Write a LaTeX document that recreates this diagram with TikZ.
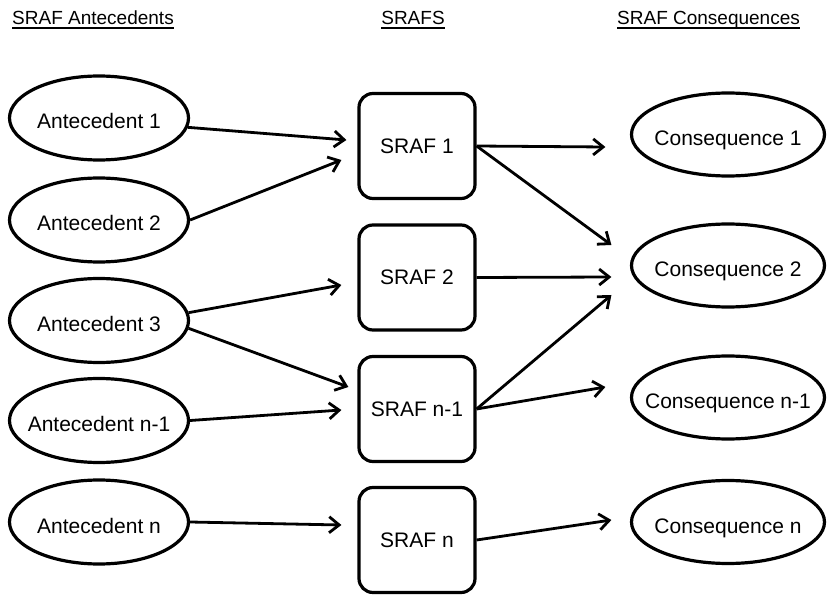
\documentclass[tikz,border=0pt]{standalone}
\usepackage{fontspec}
\setmainfont{Liberation Sans}
\usetikzlibrary{arrows.meta,shapes.geometric,calc}

\tikzset{
  ante/.style={ellipse,draw,line width=3.2pt,minimum width=179pt,minimum height=84pt,
    inner xsep=-20pt,inner ysep=0pt,text height=22pt,text depth=0pt,
    font=\fontsize{21pt}{25pt}\selectfont},
  cons/.style={ante,minimum width=193pt,minimum height=83pt},
  sraf/.style={rectangle,draw,rounded corners=14pt,line width=3.2pt,minimum width=116pt,
    minimum height=105pt,inner sep=0pt,font=\fontsize{21pt}{25pt}\selectfont},
  head/.style={inner sep=0pt,font=\fontsize{19pt}{23pt}\selectfont},
  link/.style={-{Straight Barb[length=10pt,width=16pt]},line width=2.8pt},
}

\begin{document}
\begin{tikzpicture}[x=1pt,y=-1pt]
\useasboundingbox (0,0) rectangle (828,596);

% column headings
\node[head,anchor=base west] (hA) at (12,25)  {SRAF Antecedents};
\node[head,anchor=base]      (hS) at (413,25) {SRAFS};
\node[head,anchor=base west] (hC) at (617,25) {SRAF Consequences};
\foreach \h in {hA,hS,hC}
  \draw[line width=2pt] ([yshift=-3.5pt]\h.base west) -- ([yshift=-3.5pt]\h.base east);

% antecedents
\node[ante] (a1) at (99,118)   {Antecedent 1};
\node[ante] (a2) at (99,220)   {Antecedent 2};
\node[ante] (a3) at (99,320.5) {Antecedent 3};
\node[ante] (a4) at (99,420.5) {Antecedent n-1};
\node[ante] (a5) at (99,522)   {Antecedent n};

% srafs
\node[sraf] (s1) at (417,146)   {SRAF 1};
\node[sraf] (s2) at (417,277.5) {SRAF 2};
\node[sraf] (s3) at (417,409)   {SRAF n-1};
\node[sraf] (s4) at (417,540)   {SRAF n};

% consequences
\node[cons] (c1) at (728,134.5) {Consequence 1};
\node[cons] (c2) at (728,265.5) {Consequence 2};
\node[cons] (c3) at (728,397.5) {Consequence n-1};
\node[cons] (c4) at (728,522)   {Consequence n};

% antecedent -> sraf
\draw[link] (a1.-6)   -- ($(s1.west)+(-11,-6)$);
\draw[link] (a2.east) -- ($(s1.west)+(-16,14)$);
\draw[link] (a3.5)    -- ($(s2.west)+(-16,7.5)$);
\draw[link] (a3.-5)   -- ($(s3.west)+(-9,-22)$);
\draw[link] (a4.east) -- ($(s3.west)+(-16,1)$);
\draw[link] (a5.east) -- ($(s4.west)+(-16,-15)$);

% sraf -> consequence
\draw[link] (s1.east) -- ($(c1.west)+(-24.5,12.5)$);
\draw[link] (s1.east) -- ($(c2.west)+(-18.5,-20.5)$);
\draw[link] (s2.east) -- ($(c2.west)+(-18.5,11.5)$);
\draw[link] (s3.east) -- ($(c2.west)+(-18.5,29.5)$);
\draw[link] (s3.east) -- ($(c3.west)+(-24.5,-10.5)$);
\draw[link] (s4.east) -- ($(c4.west)+(-18.5,-2)$);
\end{tikzpicture}
\end{document}
